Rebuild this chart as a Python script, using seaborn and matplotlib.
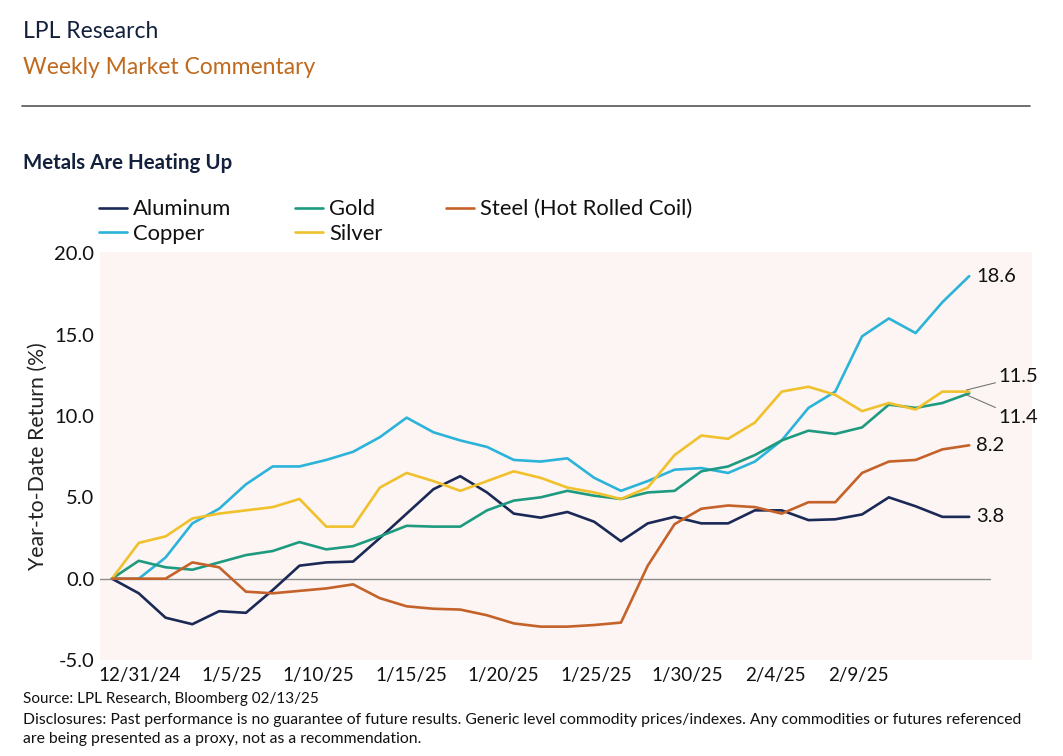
import pandas as pd
import numpy as np
import matplotlib
matplotlib.use("Agg")
import matplotlib.pyplot as plt
import seaborn as sns

# Trading days from 12/31/24 through 2/13/25 (weekdays)
dates = pd.bdate_range("2024-12-31", "2025-02-13").strftime("%-m/%-d/%y").tolist()

aluminum = [0, -0.9, -2.4, -2.8, -2.0, -2.1, -0.7, 0.8, 1.0, 1.05, 2.5, 4.0, 5.5, 6.3, 5.3, 4.0,
            3.75, 4.1, 3.5, 2.3, 3.4, 3.8, 3.4, 3.4, 4.2, 4.2, 3.6, 3.65, 3.95, 5.0, 4.45, 3.8, 3.8]
copper = [0, 0.0, 1.3, 3.4, 4.3, 5.8, 6.9, 6.9, 7.3, 7.8, 8.7, 9.9, 9.0, 8.5, 8.1, 7.3,
          7.2, 7.4, 6.2, 5.4, 6.0, 6.7, 6.8, 6.5, 7.2, 8.5, 10.5, 11.5, 14.9, 16.0, 15.1, 17.0, 18.6]
gold = [0, 1.1, 0.7, 0.55, 1.0, 1.45, 1.7, 2.25, 1.8, 2.0, 2.6, 3.25, 3.2, 3.2, 4.2, 4.8,
        5.0, 5.4, 5.1, 4.9, 5.3, 5.4, 6.6, 6.9, 7.6, 8.5, 9.1, 8.9, 9.3, 10.7, 10.5, 10.8, 11.4]
silver = [0, 2.2, 2.6, 3.7, 4.0, 4.2, 4.4, 4.9, 3.2, 3.2, 5.6, 6.5, 6.0, 5.4, 6.0, 6.6,
          6.2, 5.6, 5.3, 4.9, 5.6, 7.6, 8.8, 8.6, 9.6, 11.5, 11.8, 11.3, 10.3, 10.8, 10.4, 11.5, 11.5]
steel = [0, 0.0, 0.0, 1.0, 0.7, -0.8, -0.9, -0.75, -0.6, -0.35, -1.2, -1.7, -1.85, -1.9, -2.25, -2.75,
         -2.95, -2.95, -2.85, -2.7, 0.8, 3.35, 4.3, 4.5, 4.4, 4.0, 4.7, 4.7, 6.5, 7.2, 7.3, 7.95, 8.2]

tick_labels = ["12/31/24", "1/5/25", "1/10/25", "1/15/25", "1/20/25", "1/25/25", "1/30/25", "2/4/25", "2/9/25"]
end_labels = {"Copper": "18.6", "Silver": "11.5", "Gold": "11.4", "Steel (Hot Rolled Coil)": "8.2", "Aluminum": "3.8"}

series = {"Aluminum": aluminum, "Copper": copper, "Gold": gold, "Silver": silver,
          "Steel (Hot Rolled Coil)": steel}
colors = {"Aluminum": "#1b2957", "Copper": "#2cb3d9", "Gold": "#1e9a80",
          "Silver": "#f0c12c", "Steel (Hot Rolled Coil)": "#c4622a"}

rows = []
for name, vals in series.items():
    for i, v in enumerate(vals):
        rows.append({"idx": i, "date": dates[i], "metal": name, "ret": v})
df = pd.DataFrame(rows)

sns.set_theme(style="white")
plt.rcParams["font.family"] = ["Lato", "DejaVu Sans"]

NAVY = "#14213d"
fig = plt.figure(figsize=(10.63, 7.56), dpi=100)
ax = fig.add_axes([0.094, 0.127, 0.877, 0.54])
ax.set_facecolor("#fcf5f3")
for s in ax.spines.values():
    s.set_visible(False)

ax.axhline(0, xmin=0, xmax=0.955, color="#8c8c8c", lw=1.0, zorder=1)
sns.lineplot(data=df, x="idx", y="ret", hue="metal", palette=colors, lw=1.9, ax=ax, legend=False, zorder=3)

ax.set_xlim(-0.45, 34.35)
ax.set_ylim(-5, 20.1)
ax.set_yticks([-5, 0, 5, 10, 15, 20])
ax.set_yticklabels([f"{v:.1f}" for v in [-5, 0, 5, 10, 15, 20]])
# label positions as placed in the source chart
ax.set_xticks([1.04, 4.47, 7.71, 11.18, 14.6, 18.07, 21.46, 24.78, 27.87])
ax.set_xticklabels(tick_labels)
ax.tick_params(axis="y", labelsize=14.5, colors="#111111", length=0, pad=4)
ax.tick_params(axis="x", labelsize=13.5, colors="#111111", length=0, pad=5)
ax.set_xlabel("")
ax.set_ylabel("Year-to-Date Return (%)", fontsize=15.3, color="#222222", labelpad=5)

# end-of-line value labels
last = len(dates) - 1
for name, txt in end_labels.items():
    y = series[name][-1]
    if name == "Silver":
        ax.annotate(txt, xy=(last - 0.1, y + 0.1), xytext=(last + 1.1, y + 0.9), fontsize=14.5,
                    va="center", ha="left", color="#111111",
                    arrowprops=dict(arrowstyle="-", color="#777777", lw=0.8, shrinkA=0, shrinkB=0))
    elif name == "Gold":
        ax.annotate(txt, xy=(last - 0.1, y - 0.1), xytext=(last + 1.1, y - 1.5), fontsize=14.5,
                    va="center", ha="left", color="#111111",
                    arrowprops=dict(arrowstyle="-", color="#777777", lw=0.8, shrinkA=0, shrinkB=0))
    else:
        ax.text(last + 0.25, y, txt, fontsize=14.5, va="center", ha="left", color="#111111")

# legend
order = ["Aluminum", "Copper", "Gold", "Silver", "Steel (Hot Rolled Coil)"]
handles = [plt.Line2D([], [], color=colors[n], lw=1.9) for n in order]
fig.legend(handles, order, ncol=3, loc="upper left", bbox_to_anchor=(0.085, 0.748), frameon=False,
           fontsize=15.8, handlelength=1.25, handletextpad=0.3, columnspacing=2.9, labelspacing=0.2,
           borderaxespad=0, labelcolor="#111111")

# header
fig.text(0.022, 0.958, "LPL Research", fontsize=16.5, color=NAVY, va="center")
fig.text(0.022, 0.911, "Weekly Market Commentary", fontsize=16.5, color="#c06a1e", va="center")
fig.add_artist(plt.Line2D([0.021, 0.969], [0.86, 0.86], color="#555555", lw=1.2))
fig.text(0.022, 0.784, "Metals Are Heating Up", fontsize=14.8, fontweight="bold", color=NAVY, va="center")

# footer
fig.text(0.022, 0.075, "Source: LPL Research, Bloomberg 02/13/25", fontsize=11, color="#111111", va="center")
fig.text(0.022, 0.048, "Disclosures: Past performance is no guarantee of future results. Generic level commodity "
         "prices/indexes. Any commodities or futures referenced", fontsize=11.3, color="#111111", va="center")
fig.text(0.022, 0.022, "are being presented as a proxy, not as a recommendation.", fontsize=11.3,
         color="#111111", va="center")

fig.savefig("out.png", dpi=100, facecolor="white")
